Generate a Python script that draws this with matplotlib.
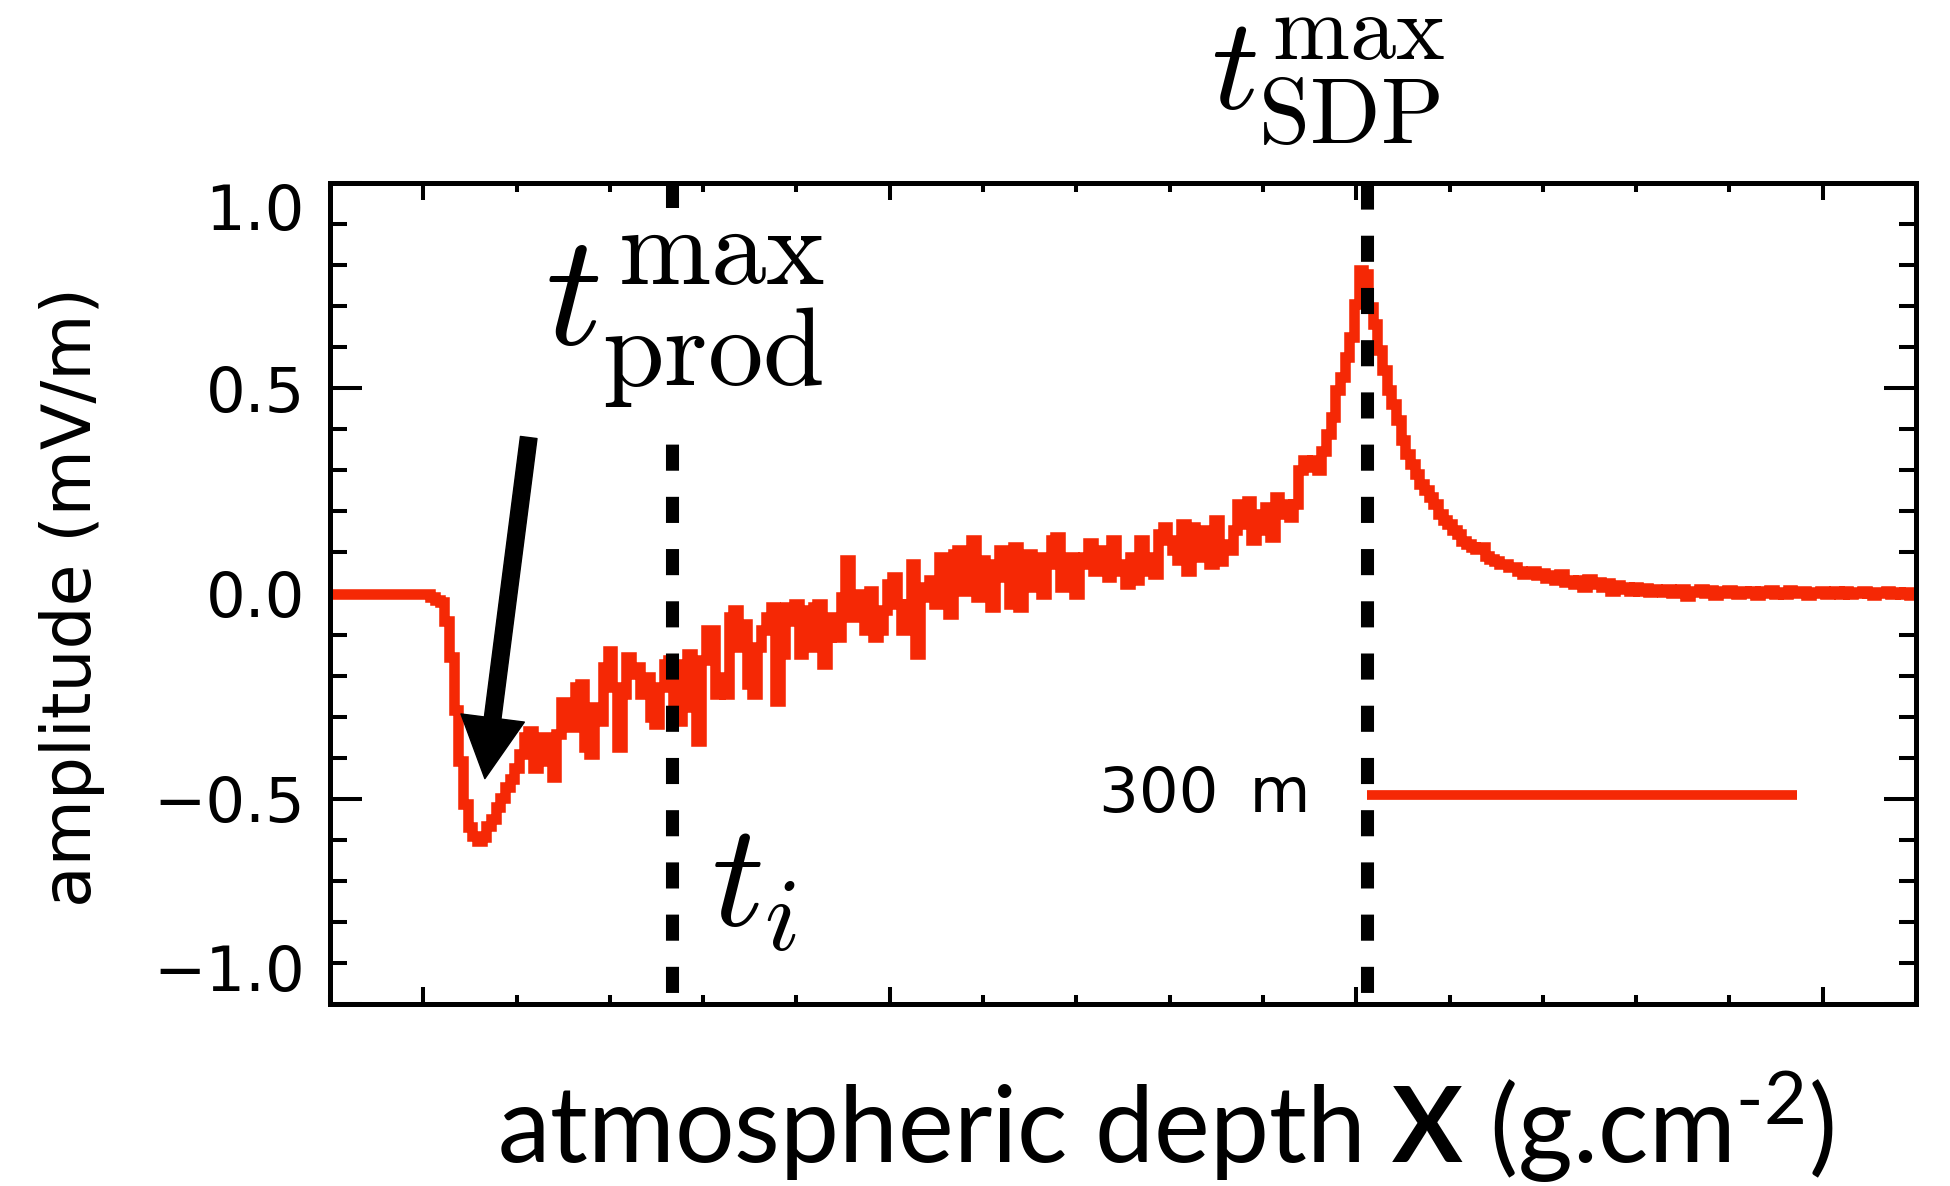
import numpy as np
import matplotlib
matplotlib.use("Agg")
import matplotlib.pyplot as plt
from matplotlib.patches import FancyArrowPatch, ArrowStyle
from matplotlib.ticker import FixedLocator, MultipleLocator

plt.rcParams['mathtext.fontset'] = 'custom'
plt.rcParams['mathtext.rm'] = 'Lato'
plt.rcParams['mathtext.bf'] = 'Lato:bold'
plt.rcParams['mathtext.it'] = 'Lato:italic'

# ---------------- data ----------------
depth_start = 0      # atmospheric depth of first sample (arbitrary units)
depth_step = 5       # sample spacing
amplitude = [
    0.0, 0.0, 0.0, 0.0, 0.0, 0.0, 0.0, 0.0, 0.0, 0.0,
    0.0, 0.0, 0.0, 0.0, 0.0, 0.0, 0.0, 0.0, 0.0, 0.0,
    0.0, 0.0, -0.008, -0.016, -0.021, -0.066, -0.155, -0.285, -0.407, -0.513,
    -0.57, -0.59, -0.602, -0.594, -0.566, -0.55, -0.521, -0.497, -0.472, -0.452,
    -0.424, -0.391, -0.35, -0.334, -0.424, -0.391, -0.35, -0.407, -0.448, -0.342,
    -0.265, -0.31, -0.326, -0.228, -0.22, -0.375, -0.391, -0.277, -0.31, -0.18,
    -0.139, -0.228, -0.375, -0.245, -0.155, -0.196, -0.18, -0.245, -0.204, -0.302,
    -0.318, -0.228, -0.171, -0.163, -0.277, -0.31, -0.171, -0.147, -0.277, -0.359,
    -0.163, -0.09, -0.09, -0.245, -0.204, -0.245, -0.058, -0.041, -0.131, -0.074,
    -0.22, -0.245, -0.131, -0.09, -0.058, -0.033, -0.261, -0.147, -0.033, -0.066,
    -0.025, -0.147, -0.041, -0.131, -0.033, -0.025, -0.171, -0.106, -0.057, -0.106,
    -0.008, 0.081, -0.057, 0.0, -0.025, -0.09, 0.007, -0.106, -0.09, -0.041,
    0.024, 0.04, -0.025, -0.09, -0.025, 0.073, -0.147, -0.008, 0.016, 0.032,
    -0.025, 0.089, 0.073, -0.049, 0.097, 0.105, 0.007, 0.056, 0.13, -0.008,
    0.081, 0.056, -0.033, 0.073, 0.105, 0.04, -0.025, 0.114, -0.033, 0.073,
    0.097, 0.016, 0.089, 0.0, 0.073, 0.13, 0.138, 0.016, 0.056, 0.089,
    0.0, 0.073, 0.089, 0.122, 0.056, 0.073, 0.105, 0.04, 0.13, 0.056,
    0.073, 0.024, 0.089, 0.032, 0.13, 0.056, 0.089, 0.048, 0.146, 0.162,
    0.13, 0.105, 0.081, 0.17, 0.056, 0.162, 0.105, 0.09, 0.154, 0.072,
    0.178, 0.08, 0.12, 0.105, 0.154, 0.218, 0.17, 0.226, 0.13, 0.194,
    0.154, 0.21, 0.137, 0.235, 0.194, 0.218, 0.186, 0.218, 0.30, 0.324,
    0.308, 0.324, 0.30, 0.348, 0.389, 0.43, 0.495, 0.527, 0.576, 0.625,
    0.706, 0.787, 0.779, 0.698, 0.657, 0.592, 0.544, 0.495, 0.462, 0.422,
    0.373, 0.34, 0.316, 0.291, 0.267, 0.251, 0.235, 0.218, 0.194, 0.178,
    0.17, 0.154, 0.145, 0.129, 0.121, 0.113, 0.109, 0.113, 0.092, 0.084,
    0.08, 0.072, 0.072, 0.064, 0.064, 0.056, 0.048, 0.052, 0.056, 0.044,
    0.05, 0.038, 0.044, 0.032, 0.048, 0.028, 0.032, 0.024, 0.032, 0.017,
    0.036, 0.022, 0.028, 0.017, 0.025, 0.007, 0.02, 0.011, 0.017, 0.007,
    0.015, 0.006, 0.014, 0.003, 0.011, 0.007, 0.003, 0.011, 0.001, 0.007,
    0.011, -0.005, 0.007, 0.004, 0.010, 0.002, 0.008, -0.003, 0.006, 0.001,
    0.009, 0.003, -0.002, 0.007, 0.002, 0.005, -0.004, 0.006, 0.001, 0.008,
    0.0, 0.004, -0.002, 0.009, 0.003, 0.001, 0.006, -0.003, 0.004, 0.002,
    0.007, -0.001, 0.003, 0.005, 0.0, 0.006, -0.002, 0.004, 0.001, 0.007,
    0.002, -0.003, 0.004, 0.001, 0.005, -0.002, 0.003, 0.0, 0.004, -0.004,
    0.002,
]
depth = depth_start + depth_step * np.arange(len(amplitude))

y_ticks = [-1.0, -0.5, 0.0, 0.5, 1.0]
y_tick_labels = ['\u22121.0', '\u22120.5', '0.0', '0.5', '1.0']
x_major_ticks = [100, 600, 1100, 1600]
x_minor_ticks = list(range(0, 1701, 100))
x_limits = (0, 1700)
y_limits = (-1.0, 1.0)

t_i_depth = 367
t_sdp_depth = 1112
scalebar_depth = [1112, 1572]
scalebar_amp = -0.49
scalebar_label = '300\u2002m'
arrow_tail = (213, 0.38)
arrow_tip = (166, -0.451)

red = '#f52805'

# ---------------- figure ----------------
W, H = 1950, 1186
fig = plt.figure(figsize=(W / 100, H / 100), dpi=100)
ax = fig.add_axes([330 / W, 1 - 1004 / H, (1916 - 330) / W, (1004 - 183) / H])

ax.plot(depth, amplitude, color=red, lw=7.6, drawstyle='steps-mid',
        solid_joinstyle='miter', zorder=2)
ax.plot(scalebar_depth, [scalebar_amp, scalebar_amp], color=red, lw=7,
        solid_capstyle='butt', zorder=2)

for xd in (t_i_depth, t_sdp_depth):
    ax.plot([xd, xd], [y_limits[1], y_limits[0]], color='black', lw=9.4,
            linestyle=(0, (2, 2)), dash_capstyle='butt', zorder=3)

ax.text(1051, scalebar_amp, scalebar_label, ha='right', va='center',
        fontsize=45, family='DejaVu Sans')

arrow = FancyArrowPatch(posA=arrow_tail, posB=arrow_tip,
                        arrowstyle=ArrowStyle('simple', head_length=44,
                                              head_width=46, tail_width=12),
                        mutation_scale=1, color='black', shrinkA=0, shrinkB=0,
                        zorder=4)
ax.add_patch(arrow)

ax.set_xlim(*x_limits)
ax.set_ylim(*y_limits)
ax.xaxis.set_major_locator(FixedLocator(x_major_ticks))
ax.xaxis.set_minor_locator(FixedLocator(x_minor_ticks))
ax.yaxis.set_major_locator(FixedLocator(y_ticks))
ax.yaxis.set_minor_locator(MultipleLocator(0.1))
ax.set_yticklabels(y_tick_labels)

ax.tick_params(axis='both', which='both', direction='in', top=True,
               right=True, width=2.9, color='black')
ax.tick_params(axis='y', which='major', length=23, pad=18, labelsize=45)
ax.tick_params(axis='y', which='minor', length=12.2)
ax.tick_params(axis='x', which='major', length=12.2, labelbottom=False)
ax.tick_params(axis='x', which='minor', length=6.5)
for s in ax.spines.values():
    s.set_linewidth(3.6)

labs = ax.get_yticklabels()
labs[0].set_va('bottom')
labs[-1].set_va('top')

fig.text(72 / W, 1 - 597 / H, 'amplitude (mV/m)', rotation=90, ha='center',
         va='center', fontsize=49, family='DejaVu Sans')
fig.text(1166 / W, 1 - 1163 / H,
         'atmospheric depth $\\mathbf{X}$ (g.cm$^{\\mathregular{\u20102}}$)',
         ha='center', va='baseline', fontsize=76, family='Lato',
         math_fontfamily='custom')

fig.text(545 / W, 1 - 345 / H, r'$t^{\rm max}_{\rm prod}$', fontsize=114,
         ha='left', va='baseline', math_fontfamily='cm',
         bbox=dict(boxstyle='square,pad=0.15', fc='white', ec='none'))
fig.text(1211 / W, 1 - 110 / H, r'$t^{\rm max}_{\rm SDP}$', fontsize=95,
         ha='left', va='baseline', math_fontfamily='cm')
fig.text(711 / W, 1 - 925 / H, r'$t_i$', fontsize=106,
         ha='left', va='baseline', math_fontfamily='cm')

fig.savefig('out.png', dpi=100, facecolor='white')
